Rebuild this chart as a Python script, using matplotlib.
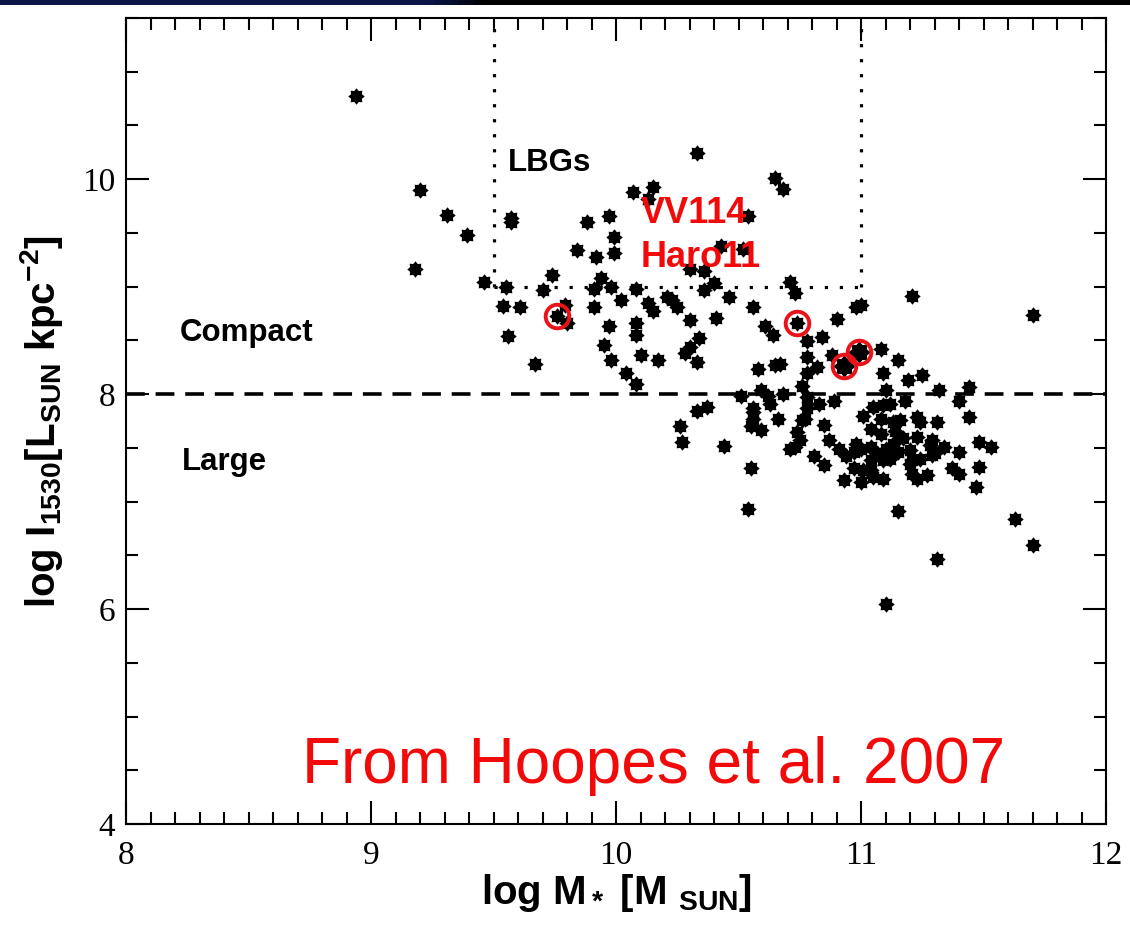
import matplotlib

matplotlib.use("Agg")
import matplotlib.pyplot as plt
import numpy as np
from matplotlib.colors import LinearSegmentedColormap
from matplotlib.path import Path
from matplotlib.ticker import MultipleLocator

# galaxies: log stellar mass vs log FUV surface brightness
galaxy_x = [
    8.94, 9.20, 9.31, 9.39, 9.18, 9.46, 9.57, 9.57, 10.33, 10.07, 10.15, 10.13,
    9.88, 9.97, 9.99, 9.84, 9.92, 9.99, 10.43, 10.30, 10.36, 9.74, 9.55, 9.70,
    9.94, 9.91, 9.98, 10.08, 10.36, 10.40, 10.46, 9.54, 9.61, 9.76, 9.79, 9.80,
    9.91, 10.02, 10.13, 10.15, 10.21, 10.23, 10.25, 10.30, 10.41, 10.34, 9.56, 9.97,
    10.08, 10.08, 9.95, 9.98, 10.10, 10.17, 10.28, 10.30, 10.33, 9.67, 10.04, 10.08,
    10.65, 10.68, 10.54, 10.52, 10.71, 10.73, 10.56, 10.74, 10.61, 10.64, 10.90, 10.98,
    11.00, 11.21, 11.70, 10.78, 10.84, 10.78, 10.88, 10.93, 10.99, 11.08, 11.15, 11.09,
    11.19, 11.25, 10.58, 10.65, 10.67, 10.78, 10.82, 10.76, 10.59, 10.62, 10.68, 10.51,
    10.37, 10.78, 10.78, 10.83, 10.89, 11.10, 11.32, 11.44, 11.40, 10.56, 10.56, 10.66,
    10.55, 10.59, 10.77, 10.85, 11.23, 11.31, 11.44, 11.23, 10.44, 10.63, 10.56, 10.76,
    11.18, 10.33, 10.26, 10.27, 10.55, 10.54, 10.74, 10.75, 10.71, 10.73, 10.81, 10.85,
    10.87, 10.91, 10.94, 11.01, 11.05, 11.09, 11.12, 11.08, 11.13, 11.16, 11.04, 11.08,
    11.14, 11.17, 10.98, 11.00, 10.97, 11.04, 11.06, 11.10, 11.13, 11.15, 11.04, 11.09,
    11.12, 11.20, 11.21, 11.24, 11.28, 11.29, 10.97, 11.01, 11.04, 10.93, 11.00, 11.05,
    11.09, 11.21, 11.23, 11.27, 11.24, 11.29, 11.34, 11.30, 11.20, 11.40, 11.37, 11.40,
    11.48, 11.53, 11.48, 11.47, 11.15, 11.63, 11.70, 11.31, 11.10,
]
galaxy_y = [
    10.77, 9.90, 9.67, 9.48, 9.16, 9.04, 9.64, 9.60, 10.24, 9.88, 9.93, 9.82,
    9.60, 9.66, 9.46, 9.34, 9.28, 9.31, 9.38, 9.16, 9.15, 9.11, 9.00, 8.97,
    9.08, 8.98, 9.00, 8.98, 8.97, 9.03, 8.90, 8.82, 8.81, 8.73, 8.83, 8.66,
    8.81, 8.88, 8.85, 8.77, 8.90, 8.88, 8.81, 8.69, 8.71, 8.52, 8.54, 8.63,
    8.66, 8.55, 8.46, 8.32, 8.36, 8.32, 8.38, 8.44, 8.30, 8.28, 8.20, 8.09,
    10.01, 9.91, 9.66, 9.35, 9.04, 8.94, 8.81, 8.66, 8.63, 8.55, 8.70, 8.81,
    8.83, 8.91, 8.74, 8.49, 8.53, 8.35, 8.36, 8.26, 8.39, 8.42, 8.32, 8.20,
    8.13, 8.18, 8.23, 8.27, 8.28, 8.20, 8.25, 8.08, 8.04, 7.98, 8.00, 7.98,
    7.88, 7.97, 7.87, 7.91, 7.94, 8.04, 8.04, 8.07, 7.94, 7.87, 7.77, 7.77,
    7.70, 7.67, 7.77, 7.71, 7.79, 7.74, 7.79, 7.60, 7.52, 7.91, 7.83, 7.76,
    7.94, 7.84, 7.70, 7.55, 7.31, 6.93, 7.65, 7.57, 7.49, 7.51, 7.42, 7.34,
    7.57, 7.49, 7.42, 7.80, 7.88, 7.90, 7.91, 7.77, 7.74, 7.76, 7.68, 7.63,
    7.66, 7.59, 7.54, 7.49, 7.46, 7.51, 7.45, 7.49, 7.54, 7.46, 7.39, 7.39,
    7.40, 7.48, 7.39, 7.40, 7.53, 7.43, 7.31, 7.29, 7.29, 7.20, 7.18, 7.23,
    7.21, 7.26, 7.21, 7.25, 7.74, 7.57, 7.51, 7.45, 7.35, 7.46, 7.31, 7.26,
    7.55, 7.51, 7.32, 7.14, 6.91, 6.84, 6.60, 6.47, 6.05,
]

# circled objects (VV114, Haro11 and two more)
ring_x = [9.76, 10.74, 10.93, 10.99]
ring_y = [8.73, 8.66, 8.26, 8.39]
# the merging pair shows as bigger blobs inside their circles
pair_x = [10.93, 10.99]
pair_y = [8.26, 8.39]

# LBG region and compact/large boundary
lbg_x = [9.5, 11.0]
lbg_y = 9.0
compact_cut = 8.0

x_lim = (8, 12)
y_lim = (4, 11.5)
x_ticks = [8, 9, 10, 11, 12]
y_ticks = [4, 6, 8, 10]


def splat_marker(n=8, inner=0.72):
    ang = np.arange(2 * n) * np.pi / n
    rad = np.where(np.arange(2 * n) % 2 == 0, 1.0, inner)
    verts = np.column_stack([rad * np.sin(ang), rad * np.cos(ang)])
    verts = np.vstack([verts, verts[:1]])
    codes = [Path.MOVETO] + [Path.LINETO] * (2 * n - 1) + [Path.CLOSEPOLY]
    return Path(verts, codes)


plt.rcParams["mathtext.fontset"] = "custom"
plt.rcParams["mathtext.rm"] = "Liberation Sans:bold"
plt.rcParams["mathtext.it"] = "Liberation Sans:bold"
plt.rcParams["mathtext.bf"] = "Liberation Sans:bold"

fig = plt.figure(figsize=(11.3, 9.26), dpi=100)
ax = fig.add_axes([126 / 1130, 102 / 926, 980 / 1130, 806 / 926])

# slide header strip
bar = fig.add_axes([0, 1 - 5 / 926, 1, 5 / 926])
cmap = LinearSegmentedColormap.from_list("hdr", [(0, "#0b1548"), (0.38, "#0b1548"), (0.43, "#000000"), (1, "#000000")])
bar.imshow(np.linspace(0, 1, 200)[None, :], aspect="auto", cmap=cmap)
bar.axis("off")

ax.axhline(compact_cut, color="black", lw=2.6, dashes=(5.2, 3.0), zorder=1)
dot = dict(color="black", lw=2.3, linestyle=(0, (1.0, 3.7)), zorder=1)
ax.plot([lbg_x[0], lbg_x[0]], [lbg_y, y_lim[1]], **dot)
ax.plot([lbg_x[1], lbg_x[1]], [lbg_y, y_lim[1]], **dot)
ax.plot(lbg_x, [lbg_y, lbg_y], **dot)

star = splat_marker()
ax.scatter(galaxy_x, galaxy_y, s=140, marker=star, color="black", linewidths=0, zorder=3)
ax.scatter(pair_x, pair_y, s=260, marker=star, color="black", linewidths=0, zorder=3)
ax.plot(ring_x, ring_y, "o", ms=17, mfc="none", mec="#e8141a", mew=2.8, zorder=4)

ax.set_xlim(*x_lim)
ax.set_ylim(*y_lim)
ax.set_xticks(x_ticks)
ax.set_yticks(y_ticks)
ax.xaxis.set_minor_locator(MultipleLocator(0.1))
ax.yaxis.set_minor_locator(MultipleLocator(0.5))
ax.tick_params(which="both", direction="in", top=True, right=True, width=1.5, labelfontfamily="Liberation Serif")
ax.tick_params(which="major", length=16.5, labelsize=24)
ax.tick_params(which="minor", length=8.5)
ax.tick_params(axis="x", pad=12)
ax.tick_params(axis="y", pad=8)
for sp in ax.spines.values():
    sp.set_linewidth(1.5)

ax.set_xlabel(r"log M$_*$ [M $_{\mathrm{SUN}}$]", fontsize=29, fontweight="bold", family="Liberation Sans")
ax.xaxis.set_label_coords(0.5, -0.06)
ax.set_ylabel(r"log I$_{1530}$[L$_{\mathrm{SUN}}$ kpc$^{-2}$]", fontsize=29, fontweight="bold", family="Liberation Sans")
ax.yaxis.set_label_coords(-0.062, 0.5)

lab = dict(fontsize=22.5, fontweight="bold", family="Liberation Sans", ha="left", va="center")
ax.text(9.56, 10.15, "LBGs", color="black", **lab)
ax.text(8.22, 8.57, "Compact", color="black", **lab)
ax.text(8.23, 7.37, "Large", color="black", **lab)
red = dict(fontsize=26, fontweight="bold", family="Liberation Sans", ha="left", va="center", color="#f20a0a")
ax.text(10.10, 9.68, "VV114", **red)
ax.text(10.10, 9.27, "Haro11", **red)
ax.text(8.72, 4.38, "From Hoopes et al. 2007", fontsize=46, family="Liberation Sans",
        color="#f20a0a", ha="left", va="baseline")

fig.savefig("out.png", dpi=100)
